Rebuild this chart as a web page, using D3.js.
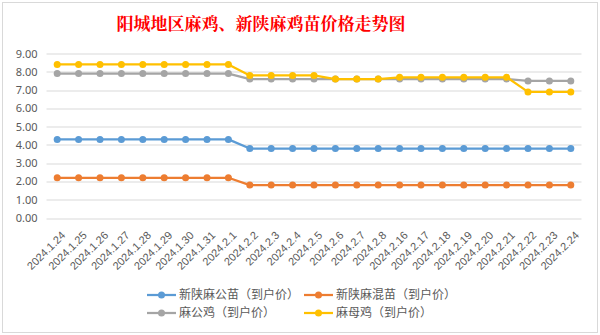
<!DOCTYPE html>
<html>
<head>
<meta charset="utf-8">
<script src="https://cdn.jsdelivr.net/npm/d3@7"></script>
<style>
  body { margin: 0; background: #fff; }
  svg { display: block; font-family: "Noto Sans CJK SC", "Noto Sans", sans-serif; }
</style>
</head>
<body>
<div id="chart"></div>
<script>
// dates along the x axis
var dates = ["2024.1.24", "2024.1.25", "2024.1.26", "2024.1.27", "2024.1.28", "2024.1.29",
    "2024.1.30", "2024.1.31", "2024.2.1", "2024.2.2", "2024.2.3", "2024.2.4", "2024.2.5",
    "2024.2.6", "2024.2.7", "2024.2.8", "2024.2.16", "2024.2.17", "2024.2.18", "2024.2.19",
    "2024.2.20", "2024.2.21", "2024.2.22", "2024.2.23", "2024.2.24"];

var seriesNames = ["新陕麻公苗（到户价）", "新陕麻混苗（到户价）", "麻公鸡（到户价）", "麻母鸡（到户价）"];

var maleChick = [4.3, 4.3, 4.3, 4.3, 4.3, 4.3, 4.3, 4.3, 4.3, 3.8, 3.8, 3.8, 3.8,
    3.8, 3.8, 3.8, 3.8, 3.8, 3.8, 3.8, 3.8, 3.8, 3.8, 3.8, 3.8];
var mixedChick = [2.2, 2.2, 2.2, 2.2, 2.2, 2.2, 2.2, 2.2, 2.2, 1.8, 1.8, 1.8, 1.8,
    1.8, 1.8, 1.8, 1.8, 1.8, 1.8, 1.8, 1.8, 1.8, 1.8, 1.8, 1.8];
var rooster = [7.9, 7.9, 7.9, 7.9, 7.9, 7.9, 7.9, 7.9, 7.9, 7.6, 7.6, 7.6, 7.6,
    7.6, 7.6, 7.6, 7.6, 7.6, 7.6, 7.6, 7.6, 7.6, 7.5, 7.5, 7.5];
var hen = [8.4, 8.4, 8.4, 8.4, 8.4, 8.4, 8.4, 8.4, 8.4, 7.8, 7.8, 7.8, 7.8,
    7.6, 7.6, 7.6, 7.7, 7.7, 7.7, 7.7, 7.7, 7.7, 6.9, 6.9, 6.9];

var yTicks = [0, 1, 2, 3, 4, 5, 6, 7, 8, 9];

var colors = ["#5b9bd5", "#ed7d31", "#a5a5a5", "#ffc000"];
var allSeries = [maleChick, mixedChick, rooster, hen];

var W = 600, H = 335;
var margin = { top: 53.5, right: 18.5, bottom: 117, left: 46.5 };
var width = W - margin.left - margin.right,
    height = H - margin.top - margin.bottom;

var svg = d3.select("#chart").append("svg")
    .attr("width", W)
    .attr("height", H);

// chart frame
svg.append("rect")
    .attr("x", 2.5).attr("y", 2.5)
    .attr("width", 595).attr("height", 330)
    .attr("fill", "#fff")
    .attr("stroke", "#d9d9d9");

svg.append("text")
    .attr("x", 261)
    .attr("y", 30)
    .attr("text-anchor", "middle")
    .attr("fill", "#ff0000")
    .style("font-size", "17px")
    .style("font-weight", "bold")
    .style("font-family", "'Noto Serif CJK SC', 'Noto Sans CJK SC', serif")
    .text("阳城地区麻鸡、新陕麻鸡苗价格走势图");

var g = svg.append("g")
    .attr("transform", "translate(" + margin.left + "," + margin.top + ")");

var x = d3.scaleBand().domain(dates).range([0, width]);
var y = d3.scaleLinear().domain([0, 9]).range([height, 0]);

// horizontal grid
g.append("g")
    .selectAll("line")
    .data(yTicks)
    .join("line")
    .attr("x1", 0).attr("x2", width)
    .attr("y1", function (d) { return Math.round(y(d)) + 0.5; })
    .attr("y2", function (d) { return Math.round(y(d)) + 0.5; })
    .attr("stroke", "#d9d9d9")
    .attr("stroke-width", 1);

// y axis labels
var yAxis = g.append("g")
    .call(d3.axisLeft(y).tickValues(yTicks).tickFormat(d3.format(".2f")).tickSize(0).tickPadding(9));
yAxis.select(".domain").remove();
yAxis.selectAll("text")
    .attr("fill", "#595959")
    .style("font-size", "11px")
    .style("font-family", "'Microsoft YaHei', 'Noto Sans', sans-serif");

// x axis labels, slanted
var xAxis = g.append("g")
    .attr("transform", "translate(0," + height + ")")
    .call(d3.axisBottom(x).tickSize(0));
xAxis.select(".domain").remove();
xAxis.selectAll("text")
    .attr("fill", "#595959")
    .style("font-size", "11px")
    .style("text-anchor", "end")
    .attr("x", 0)
    .attr("y", 0)
    .attr("dy", 0)
    .attr("transform", "translate(9,18) rotate(-45)");

var line = d3.line()
    .x(function (d, i) { return x(dates[i]) + x.bandwidth() / 2; })
    .y(function (d) { return y(d); });

allSeries.forEach(function (vals, k) {
    g.append("path")
        .datum(vals)
        .attr("fill", "none")
        .attr("stroke", colors[k])
        .attr("stroke-width", 2.25)
        .attr("stroke-linejoin", "round")
        .attr("d", line);

    g.append("g")
        .selectAll("circle")
        .data(vals)
        .join("circle")
        .attr("cx", function (d, i) { return x(dates[i]) + x.bandwidth() / 2; })
        .attr("cy", function (d) { return y(d); })
        .attr("r", 3.5)
        .attr("fill", colors[k]);
});

// legend
var legendPos = [[147, 295], [304, 295], [147, 313], [304, 313]];
seriesNames.forEach(function (name, k) {
    var lg = svg.append("g")
        .attr("transform", "translate(" + legendPos[k][0] + "," + legendPos[k][1] + ")");
    lg.append("line")
        .attr("x1", 0).attr("x2", 29)
        .attr("y1", 0).attr("y2", 0)
        .attr("stroke", colors[k])
        .attr("stroke-width", 2.25);
    lg.append("circle")
        .attr("cx", 14.5).attr("cy", 0)
        .attr("r", 3.5)
        .attr("fill", colors[k]);
    lg.append("text")
        .attr("x", 32)
        .attr("y", 0)
        .attr("dy", "0.36em")
        .attr("fill", "#595959")
        .style("font-size", "12px")
        .text(name);
});
</script>
</body>
</html>
